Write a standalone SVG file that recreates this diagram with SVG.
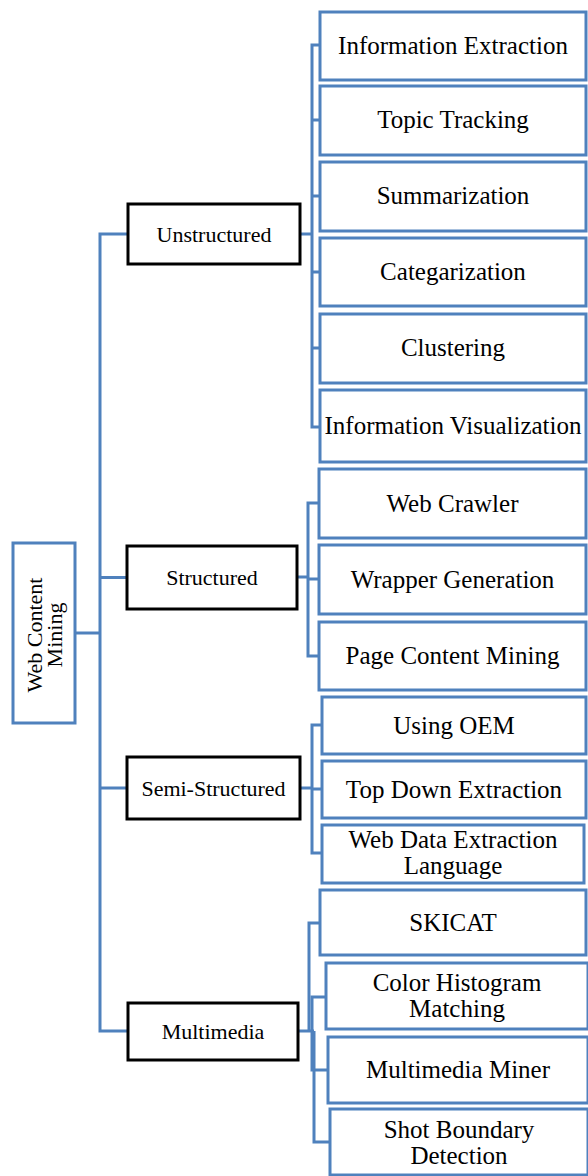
<svg xmlns="http://www.w3.org/2000/svg" width="588" height="1176" viewBox="0 0 588 1176">
<style>
.bg{fill:#ffffff}
.leaf rect{fill:#ffffff;stroke:#4F81BD;stroke-width:3}
.mid rect{fill:#ffffff;stroke:#000000;stroke-width:3}
.root rect{fill:#ffffff;stroke:#4F81BD;stroke-width:3}
text{font-family:"Liberation Serif","Times New Roman",serif;fill:#000000;text-anchor:middle}
.leaf text{font-size:25px}
.mid text,.root text{font-size:22px}
#connectors path{fill:none;stroke:#4F81BD;stroke-width:3}
</style>
<rect class="bg" x="0" y="0" width="588" height="1176"/>
<g id="connectors">
<path d="M75 633 H100"/>
<path d="M128 234 H100 V1031 H128"/>
<path d="M100 577.5 H127"/>
<path d="M100 788 H127"/>
<path d="M300 234 H312"/>
<path d="M320 45 H312 V427 H320"/>
<path d="M312 120 H320 M312 196 H320 M312 272 H320 M312 348 H320"/>
<path d="M297 577 H308"/>
<path d="M319 503 H308 V656 H319"/>
<path d="M308 579 H319"/>
<path d="M300 788 H312"/>
<path d="M322 725 H312 V853 H322"/>
<path d="M312 789 H322"/>
<path d="M298 1031 H314"/>
<path d="M320 923 H309 V1031"/>
<path d="M326 997 H312 V1070 H328"/>
<path d="M314 1031 V1142 H330"/>
</g>
<g id="root" class="root">
<rect x="13" y="543" width="62" height="180"/>
<text transform="rotate(-90 44 633)"><tspan x="42" y="631">Web Content</tspan><tspan x="42" y="651">Mining</tspan></text>
</g>
<g id="unstructured" class="mid">
<rect x="128" y="204" width="172" height="60"/>
<text x="214" y="242">Unstructured</text>
</g>
<g id="structured" class="mid">
<rect x="127" y="546" width="170" height="63"/>
<text x="212" y="585">Structured</text>
</g>
<g id="semi-structured" class="mid">
<rect x="127" y="757" width="173" height="62"/>
<text x="213.5" y="796">Semi-Structured</text>
</g>
<g id="multimedia" class="mid">
<rect x="128" y="1003" width="170" height="57"/>
<text x="213" y="1039">Multimedia</text>
</g>
<g id="information-extraction" class="leaf">
<rect x="320" y="12" width="266" height="68"/>
<text x="453" y="54">Information Extraction</text>
</g>
<g id="topic-tracking" class="leaf">
<rect x="320" y="86" width="266" height="69"/>
<text x="453" y="128">Topic Tracking</text>
</g>
<g id="summarization" class="leaf">
<rect x="320" y="162" width="266" height="69"/>
<text x="453" y="204">Summarization</text>
</g>
<g id="categarization" class="leaf">
<rect x="320" y="238" width="266" height="68"/>
<text x="453" y="280">Categarization</text>
</g>
<g id="clustering" class="leaf">
<rect x="320" y="314" width="266" height="69"/>
<text x="453" y="356">Clustering</text>
</g>
<g id="information-visualization" class="leaf">
<rect x="320" y="390" width="266" height="72"/>
<text x="453" y="434">Information Visualization</text>
</g>
<g id="web-crawler" class="leaf">
<rect x="319" y="469" width="267" height="69"/>
<text x="452.5" y="512">Web Crawler</text>
</g>
<g id="wrapper-generation" class="leaf">
<rect x="319" y="545" width="267" height="69"/>
<text x="452.5" y="588">Wrapper Generation</text>
</g>
<g id="page-content-mining" class="leaf">
<rect x="319" y="622" width="267" height="68"/>
<text x="452.5" y="664">Page Content Mining</text>
</g>
<g id="using-oem" class="leaf">
<rect x="322" y="697" width="264" height="57"/>
<text x="454" y="734">Using OEM</text>
</g>
<g id="top-down-extraction" class="leaf">
<rect x="322" y="761" width="264" height="57"/>
<text x="454" y="798">Top Down Extraction</text>
</g>
<g id="web-data-extraction-language" class="leaf">
<rect x="322" y="825" width="262" height="58"/>
<text x="453"><tspan x="453" y="848">Web Data Extraction</tspan><tspan x="453" y="874">Language</tspan></text>
</g>
<g id="skicat" class="leaf">
<rect x="320" y="890" width="266" height="65"/>
<text x="453" y="931">SKICAT</text>
</g>
<g id="color-histogram-matching" class="leaf">
<rect x="326" y="963" width="262" height="66"/>
<text x="457"><tspan x="457" y="991">Color Histogram</tspan><tspan x="457" y="1017">Matching</tspan></text>
</g>
<g id="multimedia-miner" class="leaf">
<rect x="328" y="1037" width="260" height="66"/>
<text x="458" y="1078">Multimedia Miner</text>
</g>
<g id="shot-boundary-detection" class="leaf">
<rect x="330" y="1109" width="258" height="66"/>
<text x="459"><tspan x="459" y="1138">Shot Boundary</tspan><tspan x="459" y="1164">Detection</tspan></text>
</g>
</svg>
